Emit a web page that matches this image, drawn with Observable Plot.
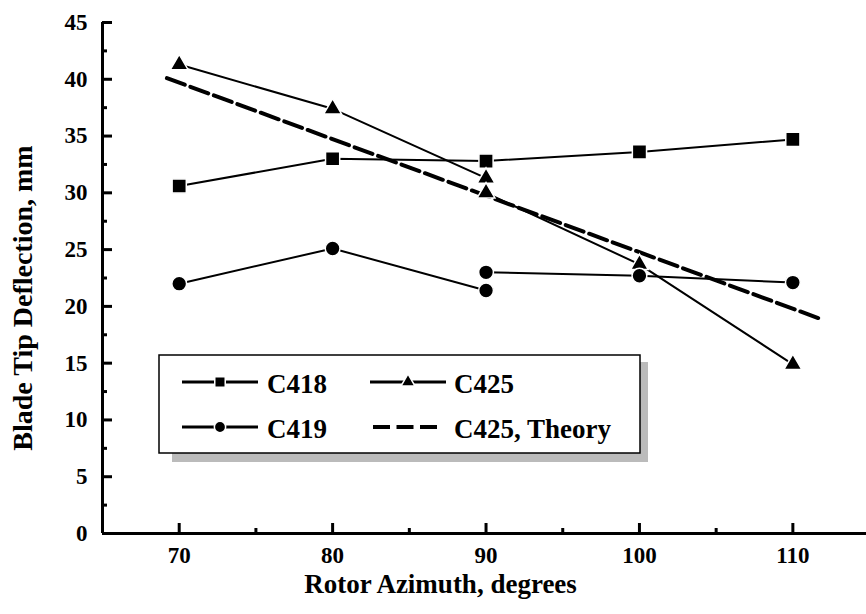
<!DOCTYPE html>
<html><head><meta charset="utf-8">
<script src="https://cdn.jsdelivr.net/npm/d3@7"></script>
<script src="https://cdn.jsdelivr.net/npm/@observablehq/plot@0.6"></script>
<style>body{margin:0;background:#fff} #chart{width:866px;height:614px}</style>
</head><body><div id="chart"></div>
<script>
// ---- data ----
const azimuth = [70, 80, 90, 100, 110];
const c418 = [30.6, 33.0, 32.8, 33.6, 34.7];
// C425 and C419 are drawn as two runs that meet (but do not join) at 90 degrees
const runAAzimuth = [70, 80, 90];
const runBAzimuth = [90, 100, 110];
const c425RunA = [41.3, 37.4, 31.3];
const c425RunB = [30.0, 23.7, 14.9];
const c419RunA = [22.0, 25.1, 21.4];
const c419RunB = [23.0, 22.7, 22.1];
const theoryAzimuth = [69.2, 112.0];
const c425Theory = [40.1, 18.8];

const xDomain = [65, 114.8];
const yDomain = [0, 45];
const xMajor = [70, 80, 90, 100, 110];
const xMinor = [75, 85, 95, 105];
const yMajor = [0, 5, 10, 15, 20, 25, 30, 35, 40, 45];
const yMinor = [2.5, 7.5, 12.5, 17.5, 22.5, 27.5, 32.5, 37.5, 42.5];
const xTitle = "Rotor Azimuth, degrees";
const yTitle = "Blade Tip Deflection, mm";
const legendItems = ["C418", "C425", "C419", "C425, Theory"];

// ---- tables ----
const rows = (xs, ys, series, seg) => xs.map((x, i) => ({x, y: ys[i], series, seg: series + seg}));
const c418Rows = rows(azimuth, c418, "C418", "");
const c425Rows = [...rows(runAAzimuth, c425RunA, "C425", "a"), ...rows(runBAzimuth, c425RunB, "C425", "b")];
const c419Rows = [...rows(runAAzimuth, c419RunA, "C419", "a"), ...rows(runBAzimuth, c419RunB, "C419", "b")];
const theoryRows = rows(theoryAzimuth, c425Theory, "Theory", "");

const font = "Liberation Serif";

const plot = Plot.plot({
  width: 866, height: 614,
  marginLeft: 102, marginRight: 0, marginTop: 22, marginBottom: 81,
  x: {domain: xDomain},
  y: {domain: yDomain},
  marks: [
    Plot.axisX(xMajor, {tickSize: 0, tickPadding: 13, fontSize: 23, label: null}),
    Plot.axisX(xMajor, {tickSize: -10, text: null, label: null, strokeWidth: 3}),
    Plot.axisX(xMinor, {tickSize: -5, text: null, label: null, strokeWidth: 3}),
    Plot.axisY(yMajor, {tickSize: 0, tickPadding: 15, fontSize: 23, label: null}),
    Plot.axisY(yMajor, {tickSize: -10, text: null, label: null, strokeWidth: 3}),
    Plot.axisY(yMinor, {tickSize: -5, text: null, label: null, strokeWidth: 3}),
    Plot.ruleY([yDomain[0]], {strokeWidth: 3}),
    Plot.ruleX([xDomain[0]], {strokeWidth: 3}),
    Plot.text([xTitle], {frameAnchor: "bottom", dx: -44, dy: 59, fontSize: 27}),
    Plot.text([yTitle], {frameAnchor: "left", textAnchor: "middle", rotate: -90, dx: -79, dy: 20, fontSize: 28}),
    Plot.line(theoryRows, {x: "x", y: "y", stroke: "black", strokeWidth: 4, strokeDasharray: "19,6"}),
    Plot.line(c418Rows, {x: "x", y: "y", z: "seg", stroke: "black", strokeWidth: 2}),
    Plot.line(c425Rows, {x: "x", y: "y", z: "seg", stroke: "black", strokeWidth: 2}),
    Plot.line(c419Rows, {x: "x", y: "y", z: "seg", stroke: "black", strokeWidth: 2}),
    Plot.dot(c418Rows, {x: "x", y: "y", symbol: "square", r: 8.0, fill: "black", stroke: "white", strokeWidth: 1.5}),
    Plot.dot(c425Rows, {x: "x", y: "y", symbol: "triangle", r: 6.6, fill: "black", stroke: "white", strokeWidth: 1.5}),
    Plot.dot(c419Rows, {x: "x", y: "y", symbol: "circle", r: 7.4, fill: "black", stroke: "white", strokeWidth: 1.5})
  ]
});
document.getElementById("chart").append(plot);

// ---- legend box inside the plot ----
const svg = d3.select(plot);
const lg = svg.append("g").attr("font-size", 27).attr("text-anchor", "start");
lg.append("rect").attr("x", 172).attr("y", 362).attr("width", 476).attr("height", 100).attr("fill", "#bbbbbb");
lg.append("rect").attr("x", 159).attr("y", 355).attr("width", 481).attr("height", 98).attr("fill", "white").attr("stroke", "black").attr("stroke-width", 1.5);
const entries = [
  {label: legendItems[0], sym: d3.symbolSquare, size: 110, x0: 182, x1: 258, tx: 267, y: 382},
  {label: legendItems[1], sym: d3.symbolTriangle, size: 85, x0: 370, x1: 446, tx: 454, y: 382},
  {label: legendItems[2], sym: d3.symbolCircle, size: 100, x0: 182, x1: 258, tx: 267, y: 427},
  {label: legendItems[3], sym: null, x0: 373, x1: 437, tx: 454, y: 427}
];
for (const e of entries) {
  if (e.sym) {
    lg.append("line").attr("x1", e.x0).attr("x2", e.x1).attr("y1", e.y).attr("y2", e.y).attr("stroke", "black").attr("stroke-width", 3);
    lg.append("path").attr("d", d3.symbol(e.sym, e.size)()).attr("transform", `translate(${(e.x0 + e.x1) / 2},${e.y})`)
      .attr("fill", "black").attr("stroke", "white").attr("stroke-width", 1.5);
  } else {
    lg.append("line").attr("x1", e.x0).attr("x2", e.x1).attr("y1", e.y).attr("y2", e.y).attr("stroke", "black").attr("stroke-width", 4).attr("stroke-dasharray", "17,6.5");
  }
  lg.append("text").attr("x", e.tx).attr("y", e.y + 11).text(e.label);
}
svg.selectAll("text").style("font-family", font).style("font-weight", "bold");
</script></body></html>
